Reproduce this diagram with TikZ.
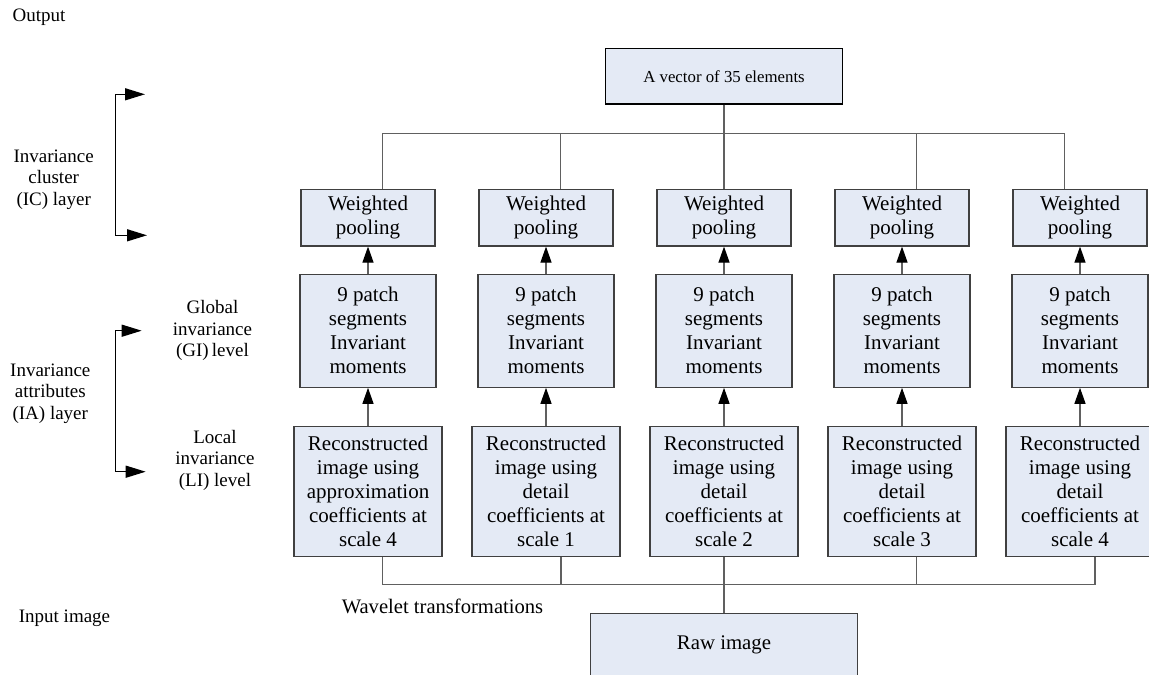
\documentclass[tikz,border=0pt]{standalone}
\usepackage{fontspec}
\setmainfont{Liberation Serif}
\usetikzlibrary{arrows.meta}
\definecolor{boxfill}{RGB}{228,234,245}
\definecolor{boxline}{RGB}{64,64,64}
\definecolor{wiregray}{RGB}{96,96,96}

\begin{document}
\begin{tikzpicture}[x=0.5pt,y=-0.5pt,node distance=89pt,
  basebox/.style={draw=boxline,fill=boxfill,line width=0.6pt,align=center,inner sep=1pt,
    font=\fontsize{10.5}{12}\selectfont},
  wpbox/.style={basebox,minimum width=67pt,minimum height=28.3pt},
  patchbox/.style={basebox,minimum width=68pt,minimum height=56.5pt},
  reconbox/.style={basebox,minimum width=74pt,minimum height=65pt},
  sidetext/.style={align=center,font=\fontsize{9.5}{10.75}\selectfont},
  wire/.style={draw=wiregray,line width=0.6pt},
  uparrow/.style={wire,-{Triangle[length=8pt,width=5.5pt,color=black]}},
  bracket/.style={line width=0.7pt,{Triangle[length=10pt,width=6pt]}-{Triangle[length=10pt,width=6pt]}}]
  \useasboundingbox (0,0) rectangle (1149,674);

  % output
  \node[basebox,draw=black,minimum width=118.5pt,minimum height=27.9pt,
    font=\fontsize{8.4}{10}\selectfont] (vec) at (724,76.2) {A vector of 35 elements};

  % IC layer
  \node[wpbox] (wp1) at (368,217.7) {Weighted\\pooling};
  \node[wpbox] (wp2) [right of=wp1] {Weighted\\pooling};
  \node[wpbox] (wp3) [right of=wp2] {Weighted\\pooling};
  \node[wpbox] (wp4) [right of=wp3] {Weighted\\pooling};
  \node[wpbox] (wp5) [right of=wp4] {Weighted\\pooling};

  % IA layer, GI level
  \node[patchbox] (pa1) [node distance=56.5pt,below of=wp1] {9 patch\\segments\\Invariant\\moments};
  \node[patchbox] (pa2) [node distance=56.5pt,below of=wp2] {9 patch\\segments\\Invariant\\moments};
  \node[patchbox] (pa3) [node distance=56.5pt,below of=wp3] {9 patch\\segments\\Invariant\\moments};
  \node[patchbox] (pa4) [node distance=56.5pt,below of=wp4] {9 patch\\segments\\Invariant\\moments};
  \node[patchbox] (pa5) [node distance=56.5pt,below of=wp5] {9 patch\\segments\\Invariant\\moments};

  % IA layer, LI level
  \node[reconbox] (re1) [node distance=80.5pt,below of=pa1] {Reconstructed\\image using\\approximation\\coefficients at\\scale 4};
  \node[reconbox] (re2) [node distance=80.5pt,below of=pa2] {Reconstructed\\image using\\detail\\coefficients at\\scale 1};
  \node[reconbox] (re3) [node distance=80.5pt,below of=pa3] {Reconstructed\\image using\\detail\\coefficients at\\scale 2};
  \node[reconbox] (re4) [node distance=80.5pt,below of=pa4] {Reconstructed\\image using\\detail\\coefficients at\\scale 3};
  \node[reconbox] (re5) [node distance=80.5pt,below of=pa5] {Reconstructed\\image using\\detail\\coefficients at\\scale 4};

  % input
  \node[basebox,minimum width=133.5pt,minimum height=31.7pt,
    font=\fontsize{10.4}{12}\selectfont] (raw) at (724,645) {Raw image};
  \node[font=\fontsize{10.3}{12}\selectfont] (wt) at (442.5,606.7) {Wavelet transformations};

  % left side
  \node[sidetext] (out) at (39,17.3) {Output};
  \node[sidetext] (ic) at (53.7,179.7) {Invariance\\cluster\\(IC) layer};
  \node[sidetext] (gi) at (212.5,330.7) {Global\\invariance\\(GI)\,level};
  \node[sidetext] (ia) at (50.3,393.3) {Invariance\\attributes\\(IA) layer};
  \node[sidetext] (li) at (215,460) {Local\\invariance\\(LI) level};
  \node[sidetext] (in) at (64.5,618.3) {Input image};

  \coordinate (ic1) at (145,94.3);
  \coordinate (ic2) at (147,235.3);
  \coordinate (icspine) at (115.7,165);
  \coordinate (ia1) at (141.7,330.7);
  \coordinate (ia2) at (145.7,471.7);
  \coordinate (iaspine) at (115.7,400);
  \draw[bracket] (ic1) -| (icspine) |- (ic2);
  \draw[bracket] (ia1) -| (iaspine) |- (ia2);

  % buses
  \coordinate (topbus) at (724,133.3);
  \coordinate (botbus) at (724,584.3);
  \draw[wire] ([xshift=7.35pt]wp1.north) |- (topbus);
  \draw[wire] ([xshift=7.35pt]wp2.north) |- (topbus);
  \draw[wire] (vec) -- (wp3);
  \draw[wire] ([xshift=7.2pt]wp4.north) |- (topbus);
  \draw[wire] ([xshift=-7.8pt]wp5.north) |- (topbus);

  \draw[wire] ([xshift=7.35pt]re1.south) |- (botbus);
  \draw[wire] ([xshift=7.5pt]re2.south) |- (botbus);
  \draw[wire] (re3) -- (raw);
  \draw[wire] ([xshift=7.25pt]re4.south) |- (botbus);
  \draw[wire] ([xshift=7.5pt]re5.south) |- (botbus);

  \path[uparrow] (re1) edge (pa1) (pa1) edge (wp1)
                 (re2) edge (pa2) (pa2) edge (wp2)
                 (re3) edge (pa3) (pa3) edge (wp3)
                 (re4) edge (pa4) (pa4) edge (wp4)
                 (re5) edge (pa5) (pa5) edge (wp5);
\end{tikzpicture}
\end{document}
